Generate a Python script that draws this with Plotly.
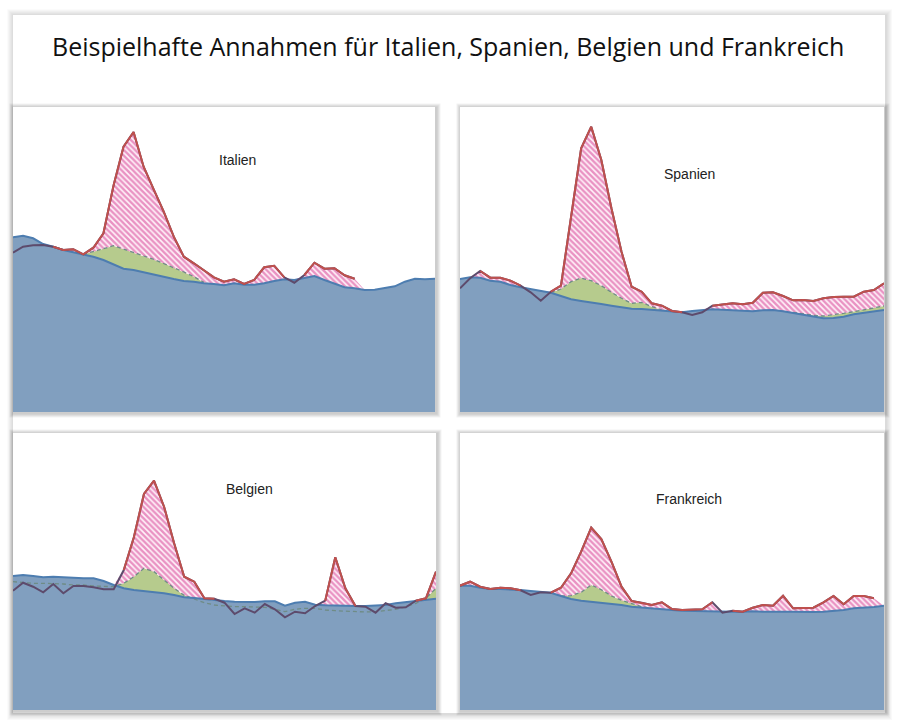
import plotly.graph_objects as go

W, H = 903, 728

# ---------------- data (arbitrary index units) ----------------
tage = list(range(0, 421, 10))  # common time axis of every panel (43 points)

italien_basis = [174.7, 176.3, 173.7, 168, 165.3, 162, 159.7, 157.3, 155.3, 152, 148, 143.3, 142, 140,
                 137.7, 135.3, 133, 131, 130.3, 128.7, 128, 126.7, 128.7, 127.3, 127.3, 128.7, 131, 132.7,
                 132, 133.7, 136, 132, 128, 124.7, 123.7, 122, 122.3, 124.3, 125.7, 130.3, 133.3, 132.7, 133.3]
italien_ist = [159.3, 165.3, 166.7, 167, 165.3, 162, 162.7, 157.7, 164.3, 178.7, 226.3, 265.3, 280, 245.3,
               222.7, 200.3, 175.3, 155.3, 148.7, 141.3, 134.7, 130.3, 132.7, 128, 132, 144.7, 146.3, 134.7,
               129.3, 137, 149.3, 143.3, 143.7, 136.7, 133.3] + [None] * 8
italien_gruen = [None] * 7 + [157.7, 160.3, 163.3, 166.3, 162.7, 159.3, 156, 152.7, 148.7, 144.3, 140,
                              135.3, 129.7] + [None] * 23

spanien_basis = [133, 134.7, 134.3, 131.3, 130.3, 127, 124.7, 123, 121.3, 119.3, 116, 112.7, 111, 109.7,
                 108, 106.3, 104.7, 103.3, 103, 102.3, 101.3, 100.3, 99.7, 101, 102, 102.7, 102.3, 102,
                 101.3, 100.7, 101.7, 102, 100.7, 99, 97, 95, 93.7, 94, 95.3, 97.7, 99, 100.3, 102]
spanien_ist = [123.7, 133.7, 141, 134.3, 134.3, 131.3, 126.3, 119.7, 111.3, 120.3, 126.3, 195, 263.7, 285.3,
               252, 203.7, 160.3, 125.3, 120.3, 108.7, 106.3, 101, 99.7, 97, 99.7, 106.3, 107.7, 108.7,
               107.7, 109.3, 119.3, 119.7, 116, 111.7, 112, 111, 113.7, 115, 115.3, 115.3, 120.3, 122, 128.7]
spanien_gruen = ([None] * 9 + [119.3, 123, 130.3, 134, 131.3, 126.3, 119.7, 113.7, 108.7, 109.7, 105.3, 102]
                 + [None] * 12 + [99.7, 98, 96.7, 96, 97, 98.7, 100.3, 102, 103.7, 106])

belgien_basis = [134, 135, 134, 132.7, 133.3, 132.7, 132.3, 131.7, 131.7, 129, 125, 121.7, 120, 119, 117.7,
                 116.7, 115, 112.7, 112, 111, 109.3, 109, 108.3, 108, 108, 108.7, 108.7, 104.3, 107.3,
                 108.3, 105.3, 104.7, 104.3, 104, 104, 104, 104.3, 105, 106.7, 107.7, 108.7, 110, 111.3]
belgien_ist = [119.3, 127.3, 123.3, 117.7, 126, 116.7, 124, 124, 122.7, 120.7, 120.7, 140, 172.7, 216, 229.3,
               203.3, 166.7, 133.3, 128.3, 111.7, 111.3, 107.3, 96, 101.7, 97.3, 106, 100.7, 92.7, 98.3,
               96.7, 104, 109.3, 152.7, 121.7, 104, 103.3, 97.3, 106.7, 102.3, 102.7, 109.3, 111.7, 138.3]
belgien_gruen = [128.3, 127.3, 126.7, 126.7, 126.7, 126, 125, 125, 124, 124, 123.3, 126.7, 133.3, 141.7,
                 138.3, 130, 121.7, 114.7, 110.7, 107.3, 105, 104, 103.3, 103.3, 103.3, 102.7, 100.7, 98.3,
                 100.7, 101.7, 101.7, 100, 99.3, 98.7, 98.3, 98, 98.3, 99.3, 100.7, 103.3, 106.7, 111.7, 121.7]

frankreich_basis = [124.3, 124.3, 122.3, 121, 121, 120.7, 120, 119, 118.3, 117.3, 114, 111, 109.3, 108.3,
                    107.3, 106.3, 105, 103.3, 102.3, 101.3, 100.7, 100, 99.3, 99, 99, 99, 98.3, 98.3, 98.3,
                    98.7, 98.3, 98, 98.3, 98.3, 98, 98, 98.3, 99, 100, 101.7, 102.3, 103, 104.3]
frankreich_ist = [124.3, 128.3, 123.3, 121, 122.3, 121.7, 119.7, 115, 117.7, 117.3, 122.3, 136.7, 158.3,
                  182.3, 171, 148.3, 123.3, 109, 107.3, 105, 107.7, 101, 100, 100, 100.7, 107.7, 97.3, 99.3,
                  98.3, 102.3, 105, 104.3, 114.3, 101.7, 101.7, 102.3, 107.7, 114, 105.7, 114, 114, 111.7, None]
frankreich_gruen = [None] * 10 + [114, 114.3, 117.7, 125, 120.3, 114, 109.7, 106.3, 103.3, 101.3] + [None] * 23

laender = ["Italien", "Spanien", "Belgien", "Frankreich"]

# ---------------- styling / layout ----------------
BLUE_FILL = "#819fbf"
BLUE_LINE = "#4d7db0"
GREEN_FILL = "#b6cb8d"
GREEN_DASH = "#6f8c86"
RED = "#c0504d"
PURPLE = "#5d4b6c"
HATCH = "#d42f8c"

# panel boxes in pixels (left, top, right, bottom)
boxes = [(13, 107, 435, 412), (460, 107, 884, 412), (13, 433, 436, 710), (460, 433, 884, 710)]
label_pos = [(0.531, 0.826), (0.542, 0.780), (0.558, 0.798), (0.540, 0.762)]

panels = [
    (italien_basis, italien_ist, italien_gruen),
    (spanien_basis, spanien_ist, spanien_gruen),
    (belgien_basis, belgien_ist, belgien_gruen),
    (frankreich_basis, frankreich_ist, frankreich_gruen),
]


def px(x):
    return x / W


def py(y):
    return 1 - y / H


fig = go.Figure()
shapes = []


def shadow(box, steps, alpha, off):
    l, t, r, b = box
    for k in range(steps, 0, -1):
        shapes.append(dict(type="rect", xref="paper", yref="paper", layer="below",
                           x0=px(l - k + off * 0.3), x1=px(r + k + off),
                           y0=py(b + k + off), y1=py(t - k + off * 0.3),
                           fillcolor=f"rgba(0,0,0,{alpha})", line=dict(width=0)))
    shapes.append(dict(type="rect", xref="paper", yref="paper", layer="below",
                       x0=px(l), x1=px(r), y0=py(b), y1=py(t),
                       fillcolor="white", line=dict(width=0)))


shadow((13, 15, 885, 713), 6, 0.024, 1)
for bx in boxes:
    shadow(bx, 4, 0.05, 1.5)

annotations = [dict(text="Beispielhafte Annahmen für Italien, Spanien, Belgien und Frankreich",
                    xref="paper", yref="paper", x=px(448), y=py(46), xanchor="center", yanchor="middle",
                    showarrow=False, font=dict(family="Open Sans", size=25, color="#111111"))]

for i, ((basis, ist, gruen), name, bx, lp) in enumerate(zip(panels, laender, boxes, label_pos)):
    n = i + 1
    xa = "x" if n == 1 else f"x{n}"
    ya = "y" if n == 1 else f"y{n}"
    l, t, r, b = bx
    hgt = b - t
    fig.layout[f"xaxis{'' if n == 1 else n}"] = dict(domain=[px(l), px(r)], range=[0, 420], visible=False,
                                                    fixedrange=True, anchor=ya)
    fig.layout[f"yaxis{'' if n == 1 else n}"] = dict(domain=[py(b), py(t)], range=[0, hgt], visible=False,
                                                    fixedrange=True, anchor=xa)

    g_full = [max(g, bb) if g is not None else bb for g, bb in zip(gruen, basis)]
    r_full = [max(a, gg) if a is not None else gg for a, gg in zip(ist, g_full)]
    rot = [a if (a is not None and a >= bb - 0.3) else None for a, bb in zip(ist, basis)]

    common = dict(x=tage, xaxis=xa, yaxis=ya, mode="lines", hoverinfo="skip", showlegend=False)
    fig.add_trace(go.Scatter(y=basis, fill="tozeroy", fillcolor=BLUE_FILL, line=dict(width=0), **common))
    fig.add_trace(go.Scatter(y=g_full, fill="tonexty", fillcolor=GREEN_FILL, line=dict(width=0), **common))
    fig.add_trace(go.Scatter(y=r_full, fill="tonexty", fillcolor="white", line=dict(width=0),
                             fillpattern=dict(shape="\\", fgcolor=HATCH, bgcolor="#fff5fa", size=4,
                                              solidity=0.62), **common))
    fig.add_trace(go.Scatter(y=gruen, line=dict(color=GREEN_DASH, width=1.3, dash="4px,3px"), **common))
    fig.add_trace(go.Scatter(y=basis, line=dict(color=BLUE_LINE, width=2), **common))
    fig.add_trace(go.Scatter(y=ist, line=dict(color=PURPLE, width=2), **common))
    fig.add_trace(go.Scatter(y=rot, line=dict(color=RED, width=2), **common))

    annotations.append(dict(text=name, xref=f"{xa} domain", yref=f"{ya} domain", x=lp[0], y=lp[1],
                            xanchor="center", yanchor="middle", showarrow=False,
                            font=dict(family="Liberation Sans", size=14, color="#222222")))

fig.update_layout(width=W, height=H, margin=dict(l=0, r=0, t=0, b=0), paper_bgcolor="white",
                  plot_bgcolor="rgba(0,0,0,0)", shapes=shapes, annotations=annotations)

fig.write_html("out.html")
